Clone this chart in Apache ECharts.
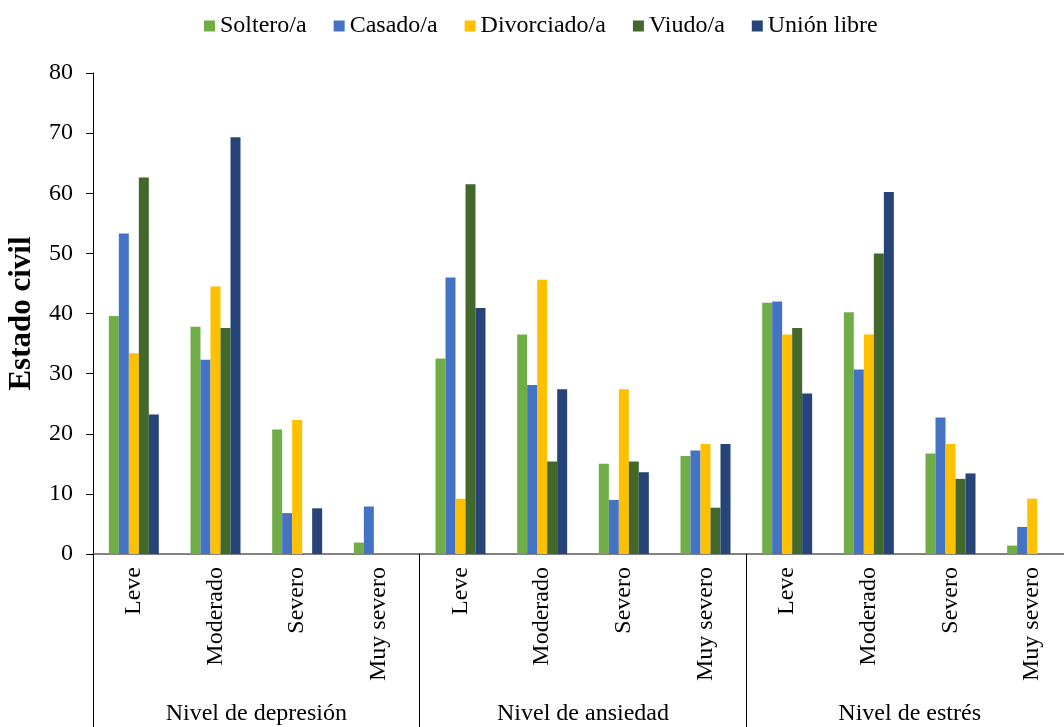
<!DOCTYPE html>
<html>
<head>
<meta charset="utf-8">
<script src="https://cdn.jsdelivr.net/npm/echarts@6/dist/echarts.min.js"></script>
<style>
  html, body { margin: 0; padding: 0; background: #fff; }
  #main { width: 1064px; height: 727px; }
</style>
</head>
<body>
<div id="main"></div>
<script>
var dom = document.getElementById("main");
var myChart = echarts.init(dom);

// niveles (eje x) y grupos
var niveles = ['Leve', 'Moderado', 'Severo', 'Muy severo',
               'Leve', 'Moderado', 'Severo', 'Muy severo',
               'Leve', 'Moderado', 'Severo', 'Muy severo'];
var grupos = ['Nivel de depresión', 'Nivel de ansiedad', 'Nivel de estrés'];

// valores por estado civil
var soltero    = [39.6, 37.8, 20.7, 1.9,  32.5, 36.5, 15.0, 16.3,  41.8, 40.2, 16.7, 1.4];
var casado     = [53.3, 32.3, 6.8,  7.9,  46.0, 28.1, 9.0,  17.2,  42.0, 30.7, 22.7, 4.5];
var divorciado = [33.4, 44.5, 22.3, 0,    9.2,  45.6, 27.4, 18.3,  36.5, 36.5, 18.3, 9.2];
var viudo      = [62.6, 37.6, 0,    0,    61.5, 15.4, 15.4, 7.7,   37.6, 50.0, 12.5, 0];
var unionLibre = [23.2, 69.3, 7.6,  0,    40.9, 27.4, 13.6, 18.3,  26.7, 60.2, 13.4, 0];

var nombres = ['Soltero/a', 'Casado/a', 'Divorciado/a', 'Viudo/a', 'Unión libre'];
var colores = ['#70AD47', '#4472C4', '#FFC000', '#43682B', '#264478'];
var valores = [soltero, casado, divorciado, viudo, unionLibre];

var fuente = 'Liberation Serif';

var series = [];
for (var i = 0; i < nombres.length; i++) {
    series.push({
        name: nombres[i],
        type: 'bar',
        data: valores[i],
        barWidth: 10,
        barGap: '0%',
        itemStyle: { color: colores[i] }
    });
}

option = {
    animation: false,
    color: colores,
    textStyle: { fontFamily: fuente, color: '#000' },
    legend: {
        top: 9,
        left: 199,
        itemWidth: 11,
        itemHeight: 11,
        itemGap: 27,
        icon: 'rect',
        textStyle: { fontFamily: fuente, fontSize: 24, color: '#000' },
        data: nombres
    },
    grid: {
        left: 93,
        width: 980,
        top: 73,
        bottom: 173,
        containLabel: false,
        outerBoundsMode: 'none'
    },
    xAxis: [
        {
            type: 'category',
            data: niveles,
            axisLine: { lineStyle: { color: '#595959', width: 1.5 } },
            axisTick: { show: false },
            axisLabel: {
                rotate: 90,
                margin: 13,
                fontFamily: fuente,
                fontSize: 24,
                color: '#000'
            }
        },
        {
            type: 'category',
            data: grupos,
            position: 'bottom',
            axisLine: { show: false },
            axisTick: { show: true, length: 173, lineStyle: { color: '#000', width: 1 } },
            axisLabel: {
                margin: 148,
                fontFamily: fuente,
                fontSize: 24,
                color: '#000'
            }
        }
    ],
    yAxis: {
        type: 'value',
        min: 0,
        max: 80,
        interval: 10,
        name: 'Estado civil',
        nameLocation: 'middle',
        nameGap: 56,
        nameTextStyle: { fontFamily: fuente, fontSize: 31, fontWeight: 'bold', color: '#000' },
        axisLine: { show: true, lineStyle: { color: '#000', width: 1 } },
        axisTick: { show: true, length: 7, lineStyle: { color: '#000' } },
        splitLine: { show: false },
        axisLabel: { fontFamily: fuente, fontSize: 24, color: '#000', margin: 20 }
    },
    series: series
};

if (option && typeof option === "object") {
    myChart.setOption(option, true);
}
window.onresize = function () {
    myChart.resize();
};
</script>
</body>
</html>
